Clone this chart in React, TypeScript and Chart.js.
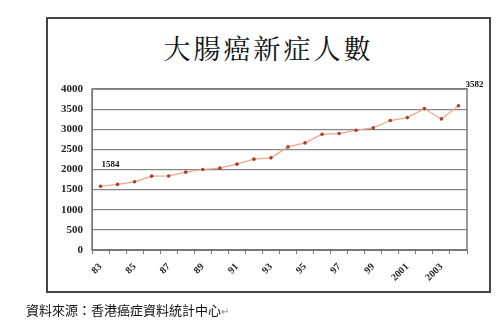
import React, { useEffect, useRef } from "react";
import { Chart, registerables } from "chart.js";

Chart.register(...registerables);

const years: string[] = ["83","84","85","86","87","88","89","90","91","92","93","94","95","96","97","98","99","2000","2001","2002","2003","2004"];
const cases: number[] = [1584,1630,1694,1835,1840,1934,2000,2033,2133,2257,2290,2562,2661,2877,2893,2976,3033,3216,3290,3513,3257,3582];
const yTicks: number[] = [0,500,1000,1500,2000,2500,3000,3500,4000];
const titleText = "大腸癌新症人數";
const sourceText = "資料來源：香港癌症資料統計中心";
const annotated: number[] = [0, 21];

const SERIF = "'Liberation Serif', 'DejaVu Serif', serif";

const boxPlugin = {
  id: "boxPlugin",
  afterDraw(chart: any) {
    const { ctx, chartArea } = chart;
    ctx.save();
    ctx.strokeStyle = "#777";
    ctx.lineWidth = 1.5;
    ctx.strokeRect(chartArea.left, chartArea.top, chartArea.right - chartArea.left, chartArea.bottom - chartArea.top);
    const meta = chart.getDatasetMeta(0);
    ctx.fillStyle = "#111";
    ctx.font = "bold 9px " + SERIF;
    ctx.textAlign = "left";
    ctx.textBaseline = "middle";
    annotated.forEach((i) => {
      const p = meta.data[i];
      const v = String(cases[i]);
      if (i === 0) ctx.fillText(v, p.x + 1, p.y - 22);
      else ctx.fillText(v, p.x + 7, p.y - 21);
    });
    ctx.restore();
  },
};

export default function App() {
  const ref = useRef<HTMLCanvasElement | null>(null);
  useEffect(() => {
    if (!ref.current) return;
    const chart = new Chart(ref.current, {
      type: "line",
      data: {
        labels: years,
        datasets: [
          {
            data: cases,
            borderColor: "#eea58a",
            borderWidth: 1.2,
            pointRadius: 1.8,
            pointBackgroundColor: "#a8402a",
            pointBorderColor: "#a8402a",
            pointBorderWidth: 0,
            tension: 0,
          },
        ],
      },
      options: {
        animation: false,
        responsive: false,
        devicePixelRatio: 1,
        layout: { padding: { left: 46, right: 34, top: 89, bottom: 40 } },
        plugins: { legend: { display: false }, tooltip: { enabled: false }, title: { display: false } },
        scales: {
          x: {
            offset: true,
            grid: { display: true, drawOnChartArea: false, offset: true, tickLength: 4, color: "#777" },
            border: { display: true, color: "#777" },
            ticks: {
              autoSkip: false,
              maxRotation: 45,
              minRotation: 45,
              color: "#222",
              font: { family: SERIF, size: 10, weight: "bold" },
              padding: 7,
              callback: (_v: any, i: number) => (i % 2 === 0 ? years[i] : ""),
            },
            afterFit: (s: any) => { s.height = 38; },
          },
          y: {
            min: 0,
            max: 4000,
            afterBuildTicks: (s: any) => { s.ticks = yTicks.map((v) => ({ value: v })); },
            grid: { color: "#888", lineWidth: 1.2, drawTicks: false },
            border: { display: true, color: "#777" },
            ticks: {
              color: "#222",
              font: { family: SERIF, size: 11, weight: "bold" },
              padding: 9,
              callback: (v: any) => String(v),
            },
            afterFit: (s: any) => { s.width = 46; },
          },
        },
      } as any,
      plugins: [boxPlugin],
    });
    return () => chart.destroy();
  }, []);

  return (
    <div style={{ position: "absolute", left: 0, top: 0, width: 501, height: 328, background: "#fff" }}>
      <div
        style={{
          position: "absolute",
          left: 46,
          top: 17,
          width: 441,
          height: 272,
          border: "2px solid #444",
        }}
      />
      <div
        style={{
          position: "absolute",
          left: 46,
          top: 30,
          width: 445,
          textAlign: "center",
          fontFamily: "'Noto Serif CJK TC', 'Noto Sans CJK TC', serif",
          fontSize: 27,
          letterSpacing: 3,
          color: "#111",
          lineHeight: "36px",
        }}
      >
        {titleText}
      </div>
      <canvas ref={ref} width={501} height={328} style={{ position: "absolute", left: 0, top: 0 }} />
      <div
        style={{
          position: "absolute",
          left: 26,
          top: 302,
          fontFamily: "'Noto Sans CJK TC', sans-serif",
          fontSize: 13,
          color: "#111",
          lineHeight: "16px",
          whiteSpace: "nowrap",
        }}
      >
        {sourceText}
        <span style={{ color: "#888", fontSize: 10 }}>↵</span>
      </div>
    </div>
  );
}
